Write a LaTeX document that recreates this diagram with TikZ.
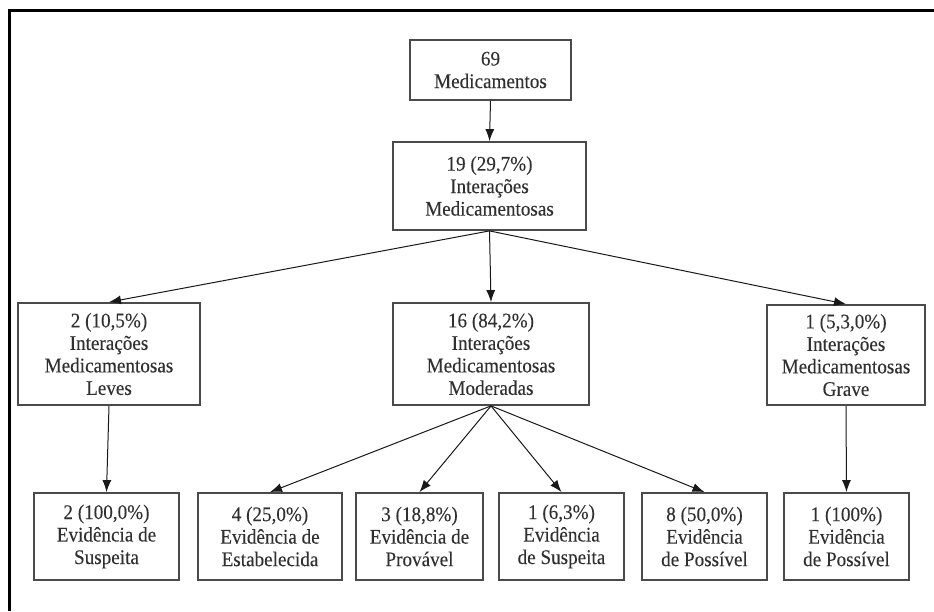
\documentclass[tikz,border=0pt]{standalone}
\usepackage{fontspec}
\setmainfont[FakeStretch=0.92,FakeBold=0.1]{Liberation Serif}
\usetikzlibrary{arrows.meta}
\definecolor{boxline}{HTML}{4A4A4A}
\definecolor{txt}{HTML}{303030}
\tikzset{
  box/.style={draw=boxline, line width=1.8pt, rectangle, inner sep=0pt,
    align=center, text=txt, font=\fontsize{20.8}{22.5}\selectfont},
  link/.style={draw=black!90, line width=1pt,
    -{Latex[length=12pt,width=9pt]}},
  frame/.style={draw=black, line width=2.4pt}
}
\begin{document}
\begin{tikzpicture}[x=1pt,y=-1pt]
\useasboundingbox (0,0) rectangle (934,611);
% outer frame (open on the right and at the bottom)
\draw[frame] (9.5,611) -- (9.5,10.5) -- (934,10.5);

% top levels
\node[box, minimum width=161pt, minimum height=60pt] (med) at (490.5,70) {69\\Medicamentos};
\node[box, minimum width=193pt, minimum height=88pt] (int) at (489.5,186) {19 (29,7\%)\\Interações\\Medicamentosas};

% severity level
\node[box, minimum width=182pt, minimum height=102pt] (lev) at (109,354) {2 (10,5\%)\\Interações\\Medicamentosas\\Leves};
\node[box, minimum width=196pt, minimum height=102pt] (mod) at (491,354) {16 (84,2\%)\\Interações\\Medicamentosas\\Moderadas};
\node[box, minimum width=158pt, minimum height=100pt] (grv) at (846,355) {1 (5,3,0\%)\\Interações\\Medicamentosas\\Grave};

% evidence level
\node[box, minimum width=145pt, minimum height=87pt] (e1) at (106.5,536.5) {2 (100,0\%)\\Evidência de\\Suspeita};
\node[box, minimum width=144pt, minimum height=87pt] (e2) at (270,536.5) {4 (25,0\%)\\Evidência de\\Estabelecida};
\node[box, minimum width=127pt, minimum height=87pt] (e3) at (419.5,536.5) {3 (18,8\%)\\Evidência de\\Provável};
\node[box, minimum width=125pt, minimum height=87pt] (e4) at (561.5,536.5) {1 (6,3\%)\\Evidência\\de Suspeita};
\node[box, minimum width=125pt, minimum height=87pt] (e5) at (704.5,536.5) {8 (50,0\%)\\Evidência\\de Possível};
\node[box, minimum width=125pt, minimum height=87pt] (e6) at (846.5,536.5) {1 (100\%)\\Evidência\\de Possível};

% connectors
\draw[link] (med.south) -- (int.north);
\draw[link] (int.south) -- (lev.north);
\draw[link] (int.south) -- (mod.north);
\draw[link] (int.south) -- (grv.north);
\draw[link] (lev.south) -- (e1.north);
\draw[link] (mod.south) -- (e2.north);
\draw[link] (mod.south) -- (e3.north);
\draw[link] (mod.south) -- (e4.north);
\draw[link] (mod.south) -- (e5.north);
\draw[link] (grv.south) -- (e6.north);
\end{tikzpicture}
\end{document}
